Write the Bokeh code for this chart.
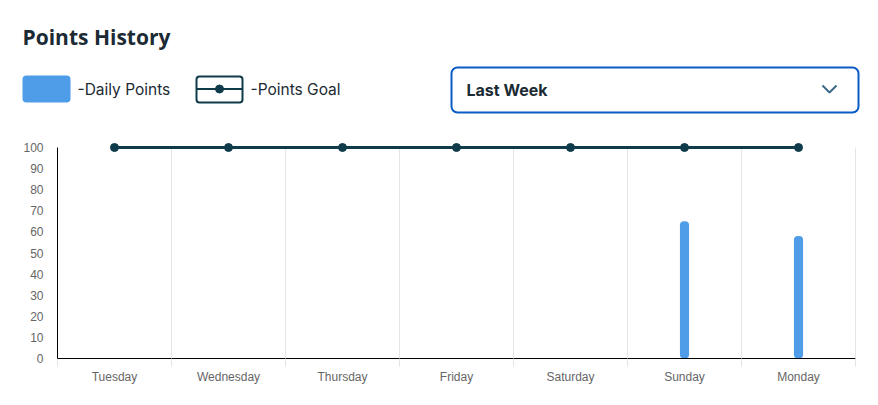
from bokeh.plotting import figure
from bokeh.models import Range1d, FixedTicker, Label, BoxAnnotation, ColumnDataSource, LinearAxis
from bokeh.embed import file_html
from bokeh.resources import INLINE

days = ["Tuesday", "Wednesday", "Thursday", "Friday", "Saturday", "Sunday", "Monday"]
daily_points = [0, 0, 0, 0, 0, 65, 58]
points_goal = [100, 100, 100, 100, 100, 100, 100]
y_ticks = [0, 10, 20, 30, 40, 50, 60, 70, 80, 90, 100]

DARK = "#0f3b4a"
BLUE = "#4f9de8"
TEXT = "#1b2a33"

W, H = 878, 405
# pixel layout of the plotting area
X0, XS = 57, 114.0      # px of category boundary 0, px per category
Y0, YS = 358, 2.11      # px of value 0, px per unit


def dx(px):
    return (px - X0) / XS


def dy(py):
    return (Y0 - py) / YS


p = figure(frame_width=W, frame_height=H, x_range=Range1d(dx(0), dx(W)), y_range=Range1d(dy(H), dy(0)),
           output_backend="svg", toolbar_location=None, min_border=0, x_axis_type=None, y_axis_type=None)
p.outline_line_color = None
p.grid.visible = False

# ---------- header ----------
p.add_layout(Label(x=dx(22), y=dy(36), text="Points History", text_font="Open Sans", text_font_style="bold",
                   text_font_size="21px", text_color=TEXT, text_baseline="middle"))
p.add_layout(BoxAnnotation(left=dx(22), right=dx(70), top=dy(75), bottom=dy(102), fill_color=BLUE, fill_alpha=1,
                           line_color=None, border_radius=4, level="overlay"))
p.add_layout(Label(x=dx(77), y=dy(89), text="-Daily Points", text_font="Inter", text_font_size="15.5px",
                   text_color=TEXT, text_baseline="middle"))
p.add_layout(BoxAnnotation(left=dx(196), right=dx(242), top=dy(76), bottom=dy(102), fill_alpha=0,
                           line_color=DARK, line_alpha=1, line_width=2, border_radius=3, level="overlay"))
p.line([dx(196), dx(242)], [dy(88.5), dy(88.5)], line_color=DARK, line_width=2)
p.scatter([dx(219)], [dy(88.5)], size=8, color=DARK)
p.add_layout(Label(x=dx(250), y=dy(89), text="-Points Goal", text_font="Inter", text_font_size="15.5px",
                   text_color=TEXT, text_baseline="middle"))
p.add_layout(BoxAnnotation(left=dx(451), right=dx(858), top=dy(67), bottom=dy(112), fill_alpha=0,
                           line_color="#0a5bc4", line_alpha=1, line_width=2, border_radius=6, level="overlay"))
p.add_layout(Label(x=dx(466), y=dy(89), text="Last Week", text_font="Inter", text_font_style="bold",
                   text_font_size="16px", text_color=TEXT, text_baseline="middle"))
p.line([dx(822), dx(829), dx(836)], [dy(85), dy(92), dy(85)], line_color="#3e6b88", line_width=2)

# ---------- chart ----------
xs = [i + 0.5 for i in range(len(days))]
src = ColumnDataSource(dict(x=xs, pts=daily_points, goal=points_goal))

# vertical grid lines at category boundaries, from 0 up to the top tick
bounds_x = list(range(1, len(days) + 1))
p.segment(x0=bounds_x, y0=[y_ticks[0]] * len(bounds_x), x1=bounds_x, y1=[y_ticks[-1]] * len(bounds_x),
          line_color="#e5e5e5", line_width=1)

p.vbar(x="x", top="pts", width=0.08, source=src, fill_color=BLUE, line_color=None, border_radius=4)
p.line(x="x", y="goal", source=src, line_color=DARK, line_width=3)
p.scatter(x="x", y="goal", source=src, size=8, color=DARK)

xaxis = LinearAxis(fixed_location=0, bounds=(0, len(days)),
                   ticker=FixedTicker(ticks=xs, minor_ticks=list(range(len(days) + 1))),
                   major_label_overrides={x: d for x, d in zip(xs, days)},
                   major_tick_line_color=None, minor_tick_in=0, minor_tick_out=8,
                   minor_tick_line_color="#e5e5e5", axis_line_color="black",
                   major_label_standoff=3, major_label_text_font="Liberation Sans",
                   major_label_text_font_size="12px", major_label_text_color="#666666")
p.add_layout(xaxis, "below")

yaxis = LinearAxis(fixed_location=0, bounds=(0, 100), ticker=FixedTicker(ticks=y_ticks),
                   major_tick_line_color=None, minor_tick_line_color=None, axis_line_color="black",
                   major_label_standoff=8, major_label_text_font="Liberation Sans",
                   major_label_text_font_size="12px", major_label_text_color="#666666")
p.add_layout(yaxis, "left")

open("out.html", "w").write(file_html(p, INLINE))
